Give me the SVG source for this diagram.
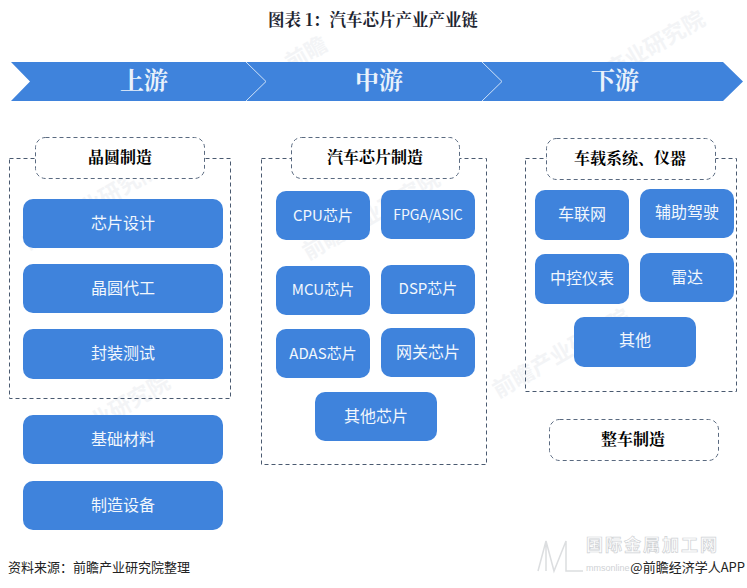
<svg xmlns="http://www.w3.org/2000/svg" width="747" height="588" viewBox="0 0 747 588">
<style>
text{font-family:"Noto Sans CJK SC","Liberation Sans",sans-serif;text-anchor:middle}
.box{fill:#3f83dc}
.lbl{fill:#f2f7fd;font-size:16px}
.lat{font-size:15px}
.dash{fill:none;stroke:#4a5a70;stroke-width:1;stroke-dasharray:4 3}
.hd{fill:#fff;stroke:#5a6a80;stroke-width:1;stroke-dasharray:4 3}
.ht{fill:#000;font-size:16px;font-weight:700;font-family:"Noto Serif CJK SC","Noto Sans CJK SC",sans-serif}
.band{fill:#eaf2fb;font-family:"Noto Serif CJK SC","Noto Sans CJK SC",sans-serif;font-size:24px;font-weight:700}
.wm{fill:#c4ccd6;opacity:.2;font-size:22px;font-weight:700}
</style>
<rect width="747" height="588" fill="#fff"/>
<g id="watermarks">
<text class="wm" transform="translate(95 212) rotate(-30)">前瞻产业研究院</text>
<text class="wm" transform="translate(375 222) rotate(-30)">前瞻产业研究院</text>
<text class="wm" transform="translate(640 62) rotate(-30)">前瞻产业研究院</text>
<text class="wm" transform="translate(565 360) rotate(-30)">前瞻产业研究院</text>
<text class="wm" transform="translate(105 425) rotate(-30)">前瞻产业研究院</text>
<text class="wm" transform="translate(310 60) rotate(-30)">前瞻</text>
</g>
<text x="373" y="26" style="font-size:16.500px;font-weight:700;fill:#1c2430;font-family:'Noto Serif CJK SC','Noto Sans CJK SC',sans-serif">图表 1：汽车芯片产业产业链</text>
<g id="band">
<path class="box" d="M11 62H723L743 81.500L723 101H11L30 81.500Z"/>
<path d="M246 62L266 81.500L246 101M482 62L502 81.500L482 101" fill="none" stroke="#cfe2f8" stroke-width="1"/>
<text class="band" x="144" y="89">上游</text>
<text class="band" x="379" y="89">中游</text>
<text class="band" x="615" y="89">下游</text>
</g>
<g id="connectors">
<rect class="dash" x="9.500" y="158.500" width="221" height="240"/>
<rect class="dash" x="261.500" y="158.500" width="225" height="306"/>
<rect class="dash" x="525.500" y="158.500" width="211" height="233"/>
</g>
<g id="n-jingyuan"><rect class="hd" x="35.500" y="137.500" width="169" height="41" rx="10"/><text class="ht" x="120" y="163">晶圆制造</text></g>
<g id="n-qiche"><rect class="hd" x="291.500" y="137.500" width="168" height="41" rx="10"/><text class="ht" x="375" y="163">汽车芯片制造</text></g>
<g id="n-chezai"><rect class="hd" x="546.500" y="138.500" width="169" height="41" rx="10"/><text class="ht" x="630" y="164">车载系统、仪器</text></g>
<g id="n-zhengche"><rect class="hd" x="549.500" y="419.500" width="169" height="41" rx="10"/><text class="ht" x="633" y="445">整车制造</text></g>
<g id="n-u1"><rect class="box" x="23" y="199" width="200" height="49" rx="10"/><text class="lbl" x="123" y="229">芯片设计</text></g>
<g id="n-u2"><rect class="box" x="23" y="264" width="200" height="49" rx="10"/><text class="lbl" x="123" y="294">晶圆代工</text></g>
<g id="n-u3"><rect class="box" x="23" y="329" width="200" height="50" rx="10"/><text class="lbl" x="123" y="359">封装测试</text></g>
<g id="n-u4"><rect class="box" x="23" y="415" width="200" height="49" rx="10"/><text class="lbl" x="123" y="445">基础材料</text></g>
<g id="n-u5"><rect class="box" x="23" y="481" width="200" height="49" rx="10"/><text class="lbl" x="123" y="511">制造设备</text></g>
<g id="n-m1"><rect class="box" x="276" y="191" width="94" height="49" rx="10"/><text class="lbl lat" x="323" y="221">CPU芯片</text></g>
<g id="n-m2"><rect class="box" x="381" y="190" width="94" height="49" rx="10"/><text class="lbl" x="428" y="220" style="font-size:14px">FPGA/ASIC</text></g>
<g id="n-m3"><rect class="box" x="276" y="266" width="94" height="49" rx="10"/><text class="lbl lat" x="323" y="295">MCU芯片</text></g>
<g id="n-m4"><rect class="box" x="381" y="265" width="94" height="49" rx="10"/><text class="lbl lat" x="428" y="294">DSP芯片</text></g>
<g id="n-m5"><rect class="box" x="276" y="329" width="94" height="49" rx="10"/><text class="lbl lat" x="323" y="359">ADAS芯片</text></g>
<g id="n-m6"><rect class="box" x="381" y="328" width="94" height="49" rx="10"/><text class="lbl" x="428" y="358">网关芯片</text></g>
<g id="n-m7"><rect class="box" x="315" y="392" width="122" height="49" rx="10"/><text class="lbl" x="376" y="422">其他芯片</text></g>
<g id="n-d1"><rect class="box" x="535" y="190" width="94" height="50" rx="10"/><text class="lbl" x="582" y="220">车联网</text></g>
<g id="n-d2"><rect class="box" x="640" y="189" width="94" height="49" rx="10"/><text class="lbl" x="687" y="218">辅助驾驶</text></g>
<g id="n-d3"><rect class="box" x="535" y="254" width="94" height="50" rx="10"/><text class="lbl" x="582" y="284">中控仪表</text></g>
<g id="n-d4"><rect class="box" x="640" y="253" width="94" height="49" rx="10"/><text class="lbl" x="687" y="283">雷达</text></g>
<g id="n-d5"><rect class="box" x="574" y="317" width="122" height="50" rx="10"/><text class="lbl" x="635" y="346">其他</text></g>
<text x="8" y="572" style="text-anchor:start;font-size:13px;fill:#222">资料来源：前瞻产业研究院整理</text>
<g id="footer-mark">
<path d="M538 571L546 541V571M546 541L554 571L566 541V571H583" fill="none" stroke="#dcdee0" stroke-width="1.500"/>
<text x="586" y="551" style="text-anchor:start;font-size:17px;font-weight:700;fill:none;stroke:#cfd2d5;stroke-width:.7;letter-spacing:2px">国际金属加工网</text>
<text x="586" y="571" style="text-anchor:start;font-size:9px;fill:#cfd2d5;font-family:'Liberation Sans',sans-serif">mmsonline</text>
<text x="745" y="572" style="text-anchor:end;font-size:13px;fill:#222">@前瞻经济学人APP</text>
</g>
</svg>
